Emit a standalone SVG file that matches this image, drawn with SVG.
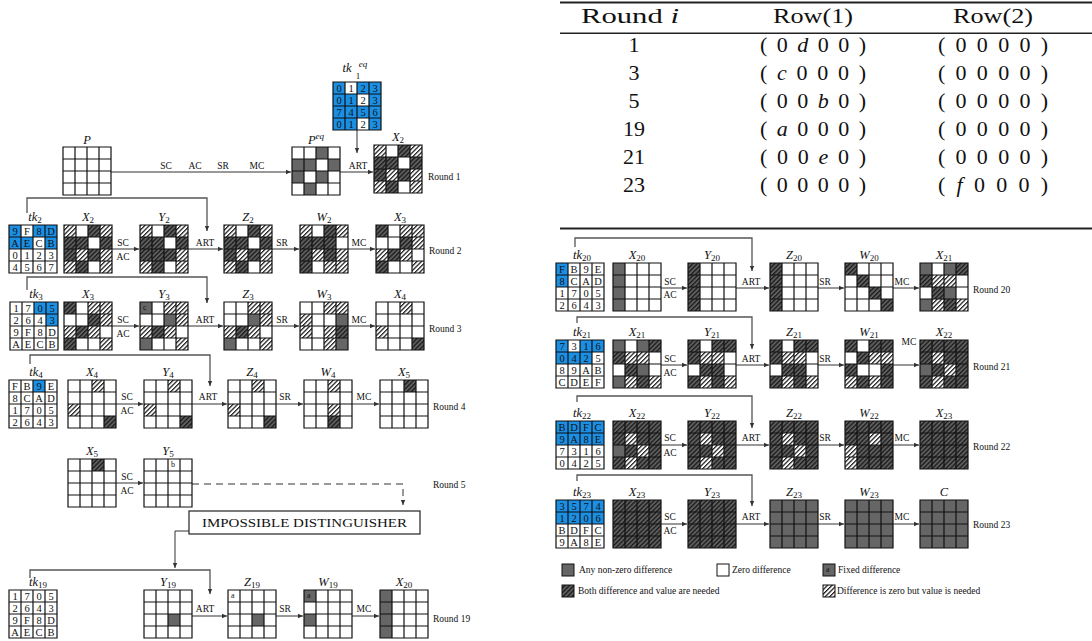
<svg xmlns="http://www.w3.org/2000/svg" width="1092" height="641" viewBox="0 0 1092 641">
<style>
text{font-family:"Liberation Serif","Times New Roman",serif;fill:#111}
.op{font-size:9.5px;text-anchor:middle}
.rl{font-size:9.5px}
.lab{font-size:12.5px;font-style:italic;text-anchor:middle}
.sb{font-size:9px;font-style:normal}
.k{font-size:10.5px;text-anchor:middle}
.ct{font-size:8px}
.tb{font-size:21px;text-anchor:middle}
.tr{font-size:22px;text-anchor:middle}
.lg{font-size:9.5px}
.ar{stroke:#333;stroke-width:1;fill:none;marker-end:url(#ah)}
.rt{stroke:#555;stroke-width:1.3;fill:none;marker-end:url(#ah)}
.bg{fill:#fff}
</style>
<defs>
<marker id="ah" markerWidth="7" markerHeight="7" refX="5.5" refY="3" orient="auto" markerUnits="userSpaceOnUse"><path d="M0,0.6L5.5,3L0,5.4z" fill="#333"/></marker>
<pattern id="pd" patternUnits="userSpaceOnUse" width="3.2" height="3.2" patternTransform="rotate(45)"><rect width="3.2" height="3.2" fill="#5e5e5e"/><rect width="1.3" height="3.2" fill="#1a1a1a"/></pattern>
<pattern id="pw" patternUnits="userSpaceOnUse" width="3.2" height="3.2" patternTransform="rotate(45)"><rect width="3.2" height="3.2" fill="#fff"/><rect width="1.2" height="3.2" fill="#111"/></pattern>
<rect id="G" width="12" height="12" fill="#666"/>
<rect id="D" width="12" height="12" fill="url(#pd)"/>
<rect id="H" width="12" height="12" fill="url(#pw)"/>
<rect id="K" width="12" height="12" fill="#1a8fe3"/>
<path id="gr" d="M0,0H48V48H0Z M12,0V48 M24,0V48 M36,0V48 M0,12H48 M0,24H48 M0,36H48" fill="none" stroke="#111" stroke-width="1.2"/>
</defs>
<rect width="1092" height="641" fill="#fff"/>

<!-- ================= TABLE ================= -->
<g id="table">
<rect x="560" y="1.5" width="532" height="2" fill="#222"/>
<rect x="560" y="32.5" width="532" height="1.5" fill="#222"/>
<rect x="560" y="227.5" width="532" height="2" fill="#222"/>
<text class="tb" x="630" y="23" textLength="98" lengthAdjust="spacingAndGlyphs">Round <tspan font-style="italic">i</tspan></text>
<text class="tb" x="813" y="23" textLength="80" lengthAdjust="spacingAndGlyphs">Row(1)</text>
<text class="tb" x="993" y="23" textLength="80" lengthAdjust="spacingAndGlyphs">Row(2)</text>
<text class="tr" x="634" y="52">1</text>
<text class="tr" x="634" y="80">3</text>
<text class="tr" x="634" y="108">5</text>
<text class="tr" x="634" y="136">19</text>
<text class="tr" x="634" y="164">21</text>
<text class="tr" x="634" y="192">23</text>
<text class="tr" x="813" y="52" textLength="106" lengthAdjust="spacing">( 0 <tspan font-style="italic">d</tspan> 0 0 )</text>
<text class="tr" x="813" y="80" textLength="106" lengthAdjust="spacing">( <tspan font-style="italic">c</tspan> 0 0 0 )</text>
<text class="tr" x="813" y="108" textLength="106" lengthAdjust="spacing">( 0 0 <tspan font-style="italic">b</tspan> 0 )</text>
<text class="tr" x="813" y="136" textLength="106" lengthAdjust="spacing">( <tspan font-style="italic">a</tspan> 0 0 0 )</text>
<text class="tr" x="813" y="164" textLength="106" lengthAdjust="spacing">( 0 0 <tspan font-style="italic">e</tspan> 0 )</text>
<text class="tr" x="813" y="192" textLength="106" lengthAdjust="spacing">( 0 0 0 0 )</text>
<text class="tr" x="993" y="52" textLength="110" lengthAdjust="spacing">( 0 0 0 0 )</text>
<text class="tr" x="993" y="80" textLength="110" lengthAdjust="spacing">( 0 0 0 0 )</text>
<text class="tr" x="993" y="108" textLength="110" lengthAdjust="spacing">( 0 0 0 0 )</text>
<text class="tr" x="993" y="136" textLength="110" lengthAdjust="spacing">( 0 0 0 0 )</text>
<text class="tr" x="993" y="164" textLength="110" lengthAdjust="spacing">( 0 0 0 0 )</text>
<text class="tr" x="993" y="192" textLength="110" lengthAdjust="spacing">( <tspan font-style="italic">f</tspan> 0 0 0 )</text>
</g>

<!-- ================= CONNECTORS ================= -->
<g id="connectors">
<path class="ar" d="M111,172H291"/>
<path class="ar" d="M340,172H373"/>
<path class="ar" d="M357,130V153"/>
<path class="rt" d="M27,213V198H207V231"/>
<path class="ar" d="M112,249H139"/>
<path class="ar" d="M188,249H223"/>
<path class="ar" d="M272,249H299"/>
<path class="ar" d="M348,249H375"/>
<path class="rt" d="M27,290V277H207V303"/>
<path class="ar" d="M112,326H139"/>
<path class="ar" d="M188,326H223"/>
<path class="ar" d="M272,326H299"/>
<path class="ar" d="M348,326H375"/>
<path class="rt" d="M30,364V355H210V386"/>
<path class="ar" d="M116,404H143"/>
<path class="ar" d="M192,404H227"/>
<path class="ar" d="M276,404H303"/>
<path class="ar" d="M352,404H379"/>
<path class="ar" d="M116,483H143"/>
<path class="ar" d="M192,484H403V505" stroke-dasharray="7 5"/>
<path class="ar" d="M189,531H175V568"/>
<path class="rt" d="M30,578V570H210V594"/>
<path class="ar" d="M192,616H227"/>
<path class="ar" d="M276,616H303"/>
<path class="ar" d="M352,616H379"/>
<path class="rt" d="M575,247V238H752V271"/>
<path class="ar" d="M661,288H687"/>
<path class="ar" d="M736,288H769"/>
<path class="ar" d="M818,288H844"/>
<path class="ar" d="M893,288H919"/>
<path class="rt" d="M577,323V317H752V349"/>
<path class="ar" d="M661,365H687"/>
<path class="ar" d="M736,365H769"/>
<path class="ar" d="M818,365H844"/>
<path class="ar" d="M893,365H919"/>
<path class="rt" d="M577,402V396H752V428"/>
<path class="ar" d="M661,445H687"/>
<path class="ar" d="M736,445H769"/>
<path class="ar" d="M818,445H844"/>
<path class="ar" d="M893,445H919"/>
<path class="rt" d="M577,481V475H752V506"/>
<path class="ar" d="M661,524H687"/>
<path class="ar" d="M736,524H769"/>
<path class="ar" d="M818,524H844"/>
<path class="ar" d="M893,524H919"/>
</g>

<!-- ================= OPERATION LABELS ================= -->
<g id="oplabels">
<text class="op" x="166" y="169">SC</text><text class="op" x="195" y="169">AC</text><text class="op" x="223" y="169">SR</text><text class="op" x="257" y="169">MC</text>
<text class="op" x="358" y="169">ART</text>
<text class="rl" x="428" y="180">Round 1</text>
<text class="op" x="123" y="246">SC</text><text class="op" x="123" y="260">AC</text><text class="op" x="205" y="246">ART</text><text class="op" x="282" y="246">SR</text><text class="op" x="359" y="246">MC</text>
<text class="rl" x="429" y="254">Round 2</text>
<text class="op" x="123" y="323">SC</text><text class="op" x="123" y="337">AC</text><text class="op" x="205" y="323">ART</text><text class="op" x="282" y="323">SR</text><text class="op" x="359" y="323">MC</text>
<text class="rl" x="429" y="332">Round 3</text>
<text class="op" x="127" y="400">SC</text><text class="op" x="127" y="414">AC</text><text class="op" x="208" y="400">ART</text><text class="op" x="285" y="400">SR</text><text class="op" x="364" y="400">MC</text>
<text class="rl" x="433" y="410">Round 4</text>
<text class="op" x="127" y="480">SC</text><text class="op" x="127" y="494">AC</text>
<text class="rl" x="433" y="488">Round 5</text>
<text class="op" x="205" y="612">ART</text><text class="op" x="285" y="612">SR</text><text class="op" x="364" y="612">MC</text>
<text class="rl" x="433" y="622">Round 19</text>
<text class="op" x="670" y="285">SC</text><text class="op" x="670" y="298">AC</text><text class="op" x="751" y="285">ART</text><text class="op" x="825" y="285">SR</text><text class="op" x="902" y="285">MC</text>
<text class="rl" x="973" y="293">Round 20</text>
<text class="op" x="670" y="362">SC</text><text class="op" x="670" y="376">AC</text><text class="op" x="751" y="362">ART</text><text class="op" x="825" y="362">SR</text><text class="op" x="909" y="345">MC</text>
<text class="rl" x="973" y="370">Round 21</text>
<text class="op" x="670" y="441">SC</text><text class="op" x="670" y="456">AC</text><text class="op" x="751" y="441">ART</text><text class="op" x="825" y="441">SR</text><text class="op" x="902" y="441">MC</text>
<text class="rl" x="973" y="450">Round 22</text>
<text class="op" x="670" y="520">SC</text><text class="op" x="670" y="534">AC</text><text class="op" x="751" y="520">ART</text><text class="op" x="825" y="520">SR</text><text class="op" x="902" y="520">MC</text>
<text class="rl" x="973" y="528">Round 23</text>
</g>

<!-- ================= ROUND 1 ================= -->
<g id="tkeq1">
<text class="lab" x="347" y="72">tk</text><text x="363" y="67" font-size="9" font-style="italic" text-anchor="middle">eq</text><text x="358" y="79" font-size="9" text-anchor="middle">1</text>
<g transform="translate(333,82)"><rect class="bg" width="48" height="48"/>
<use href="#K" x="0" y="0"/><use href="#K" x="24" y="0"/><use href="#K" x="36" y="0"/>
<use href="#K" x="0" y="12"/><use href="#K" x="12" y="12"/><use href="#K" x="36" y="12"/>
<use href="#K" x="0" y="24"/><use href="#K" x="12" y="24"/><use href="#K" x="24" y="24"/><use href="#K" x="36" y="24"/>
<use href="#K" x="0" y="36"/><use href="#K" x="12" y="36"/><use href="#K" x="36" y="36"/>
<text class="k" x="6 18 30 42" y="10">0123</text><text class="k" x="6 18 30 42" y="22">0123</text><text class="k" x="6 18 30 42" y="34">7456</text><text class="k" x="6 18 30 42" y="46">0123</text>
<use href="#gr"/></g></g>
<g id="P-r1"><text class="lab" x="87" y="144">P</text>
<g transform="translate(63,147)"><rect class="bg" width="48" height="48"/><use href="#gr"/></g></g>
<g id="Peq-r1"><text class="lab" x="316" y="144">P<tspan font-size="9" dy="-5">eq</tspan></text>
<g transform="translate(292,147)"><rect class="bg" width="48" height="48"/>
<use href="#G" x="24" y="0"/><use href="#G" x="0" y="12"/><use href="#G" x="12" y="12"/><use href="#G" x="36" y="12"/><use href="#G" x="0" y="24"/><use href="#G" x="24" y="24"/><use href="#G" x="12" y="36"/>
<use href="#gr"/></g></g>
<g id="X2-r1"><text class="lab" x="398" y="141">X<tspan class="sb" dy="2">2</tspan></text>
<g transform="translate(374,145)"><rect class="bg" width="48" height="48"/>
<use href="#H" x="0" y="0"/><use href="#D" x="24" y="0"/><use href="#H" x="36" y="0"/>
<use href="#D" x="0" y="12"/><use href="#D" x="12" y="12"/><use href="#D" x="36" y="12"/>
<use href="#D" x="0" y="24"/><use href="#H" x="12" y="24"/><use href="#D" x="24" y="24"/><use href="#H" x="36" y="24"/>
<use href="#H" x="0" y="36"/><use href="#D" x="12" y="36"/><use href="#H" x="36" y="36"/>
<use href="#gr"/></g></g>

<!-- ================= ROUND 2 ================= -->
<g id="tk2"><text class="lab" x="35" y="221">tk<tspan class="sb" dy="2">2</tspan></text>
<g transform="translate(9,225)"><rect class="bg" width="48" height="48"/>
<use href="#K" x="0" y="0"/><use href="#K" x="24" y="0"/><use href="#K" x="36" y="0"/>
<use href="#K" x="0" y="12"/><use href="#K" x="12" y="12"/><use href="#K" x="36" y="12"/>
<text class="k" x="6 18 30 42" y="10">9F8D</text><text class="k" x="6 18 30 42" y="22">AECB</text><text class="k" x="6 18 30 42" y="34">0123</text><text class="k" x="6 18 30 42" y="46">4567</text>
<use href="#gr"/></g></g>
<g id="X2-r2"><text class="lab" x="88" y="221">X<tspan class="sb" dy="2">2</tspan></text>
<g transform="translate(64,225)"><rect class="bg" width="48" height="48"/>
<use href="#H" x="0" y="0"/><use href="#D" x="24" y="0"/><use href="#H" x="36" y="0"/>
<use href="#D" x="0" y="12"/><use href="#D" x="12" y="12"/><use href="#D" x="36" y="12"/>
<use href="#D" x="0" y="24"/><use href="#H" x="12" y="24"/><use href="#D" x="24" y="24"/><use href="#H" x="36" y="24"/>
<use href="#H" x="0" y="36"/><use href="#D" x="12" y="36"/><use href="#H" x="36" y="36"/>
<use href="#gr"/></g></g>
<g id="Y2-r2"><text class="lab" x="164" y="221">Y<tspan class="sb" dy="2">2</tspan></text>
<g transform="translate(140,225)"><rect class="bg" width="48" height="48"/>
<use href="#H" x="0" y="0"/><use href="#D" x="24" y="0"/><use href="#H" x="36" y="0"/>
<use href="#D" x="0" y="12"/><use href="#D" x="12" y="12"/><use href="#D" x="36" y="12"/>
<use href="#D" x="0" y="24"/><use href="#D" x="12" y="24"/><use href="#D" x="24" y="24"/><use href="#H" x="36" y="24"/>
<use href="#H" x="0" y="36"/><use href="#D" x="12" y="36"/><use href="#H" x="36" y="36"/>
<use href="#gr"/></g></g>
<g id="Z2-r2"><text class="lab" x="248" y="221">Z<tspan class="sb" dy="2">2</tspan></text>
<g transform="translate(224,225)"><rect class="bg" width="48" height="48"/>
<use href="#H" x="0" y="0"/><use href="#D" x="24" y="0"/><use href="#H" x="36" y="0"/>
<use href="#D" x="0" y="12"/><use href="#D" x="12" y="12"/><use href="#D" x="36" y="12"/>
<use href="#D" x="0" y="24"/><use href="#H" x="12" y="24"/><use href="#D" x="24" y="24"/><use href="#H" x="36" y="24"/>
<use href="#H" x="0" y="36"/><use href="#D" x="12" y="36"/><use href="#H" x="36" y="36"/>
<use href="#gr"/></g></g>
<g id="W2-r2"><text class="lab" x="324" y="221">W<tspan class="sb" dy="2">2</tspan></text>
<g transform="translate(300,225)"><rect class="bg" width="48" height="48"/>
<use href="#H" x="0" y="0"/><use href="#D" x="24" y="0"/><use href="#H" x="36" y="0"/>
<use href="#D" x="0" y="12"/><use href="#D" x="12" y="12"/><use href="#D" x="24" y="12"/>
<use href="#D" x="0" y="24"/><use href="#H" x="12" y="24"/><use href="#D" x="24" y="24"/><use href="#H" x="36" y="24"/>
<use href="#D" x="0" y="36"/><use href="#H" x="24" y="36"/><use href="#H" x="36" y="36"/>
<use href="#gr"/></g></g>
<g id="X3-r2"><text class="lab" x="400" y="221">X<tspan class="sb" dy="2">3</tspan></text>
<g transform="translate(376,225)"><rect class="bg" width="48" height="48"/>
<use href="#D" x="0" y="0"/><use href="#H" x="24" y="0"/><use href="#H" x="36" y="0"/>
<use href="#D" x="24" y="12"/><use href="#H" x="36" y="12"/>
<use href="#H" x="0" y="24"/><use href="#D" x="12" y="24"/><use href="#H" x="24" y="24"/>
<use href="#D" x="0" y="36"/><use href="#H" x="36" y="36"/>
<use href="#gr"/></g></g>

<!-- ================= ROUND 3 ================= -->
<g id="tk3"><text class="lab" x="36" y="298">tk<tspan class="sb" dy="2">3</tspan></text>
<g transform="translate(10,302)"><rect class="bg" width="48" height="48"/>
<use href="#K" x="24" y="0"/><use href="#K" x="36" y="0"/><use href="#K" x="36" y="12"/>
<text class="k" x="6 18 30 42" y="10">1705</text><text class="k" x="6 18 30 42" y="22">2643</text><text class="k" x="6 18 30 42" y="34">9F8D</text><text class="k" x="6 18 30 42" y="46">AECB</text>
<use href="#gr"/></g></g>
<g id="X3-r3"><text class="lab" x="88" y="298">X<tspan class="sb" dy="2">3</tspan></text>
<g transform="translate(64,302)"><rect class="bg" width="48" height="48"/>
<use href="#D" x="0" y="0"/><use href="#H" x="24" y="0"/><use href="#H" x="36" y="0"/>
<use href="#D" x="24" y="12"/><use href="#H" x="36" y="12"/>
<use href="#H" x="0" y="24"/><use href="#D" x="12" y="24"/><use href="#H" x="24" y="24"/>
<use href="#D" x="0" y="36"/><use href="#H" x="36" y="36"/>
<use href="#gr"/></g></g>
<g id="Y3-r3"><text class="lab" x="164" y="298">Y<tspan class="sb" dy="2">3</tspan></text>
<g transform="translate(140,302)"><rect class="bg" width="48" height="48"/>
<use href="#G" x="0" y="0"/><use href="#H" x="24" y="0"/><use href="#H" x="36" y="0"/>
<use href="#G" x="24" y="12"/><use href="#H" x="36" y="12"/>
<use href="#H" x="0" y="24"/><use href="#D" x="12" y="24"/><use href="#H" x="24" y="24"/>
<use href="#G" x="0" y="36"/><use href="#H" x="36" y="36"/>
<text class="ct" x="3" y="8">c</text>
<use href="#gr"/></g></g>
<g id="Z3-r3"><text class="lab" x="248" y="298">Z<tspan class="sb" dy="2">3</tspan></text>
<g transform="translate(224,302)"><rect class="bg" width="48" height="48"/>
<use href="#H" x="24" y="0"/><use href="#H" x="36" y="0"/>
<use href="#G" x="24" y="12"/><use href="#H" x="36" y="12"/>
<use href="#H" x="0" y="24"/><use href="#D" x="12" y="24"/><use href="#H" x="24" y="24"/>
<use href="#G" x="0" y="36"/><use href="#H" x="36" y="36"/>
<use href="#gr"/></g></g>
<g id="W3-r3"><text class="lab" x="324" y="298">W<tspan class="sb" dy="2">3</tspan></text>
<g transform="translate(300,302)"><rect class="bg" width="48" height="48"/>
<use href="#H" x="24" y="0"/><use href="#H" x="36" y="0"/>
<use href="#H" x="0" y="12"/><use href="#G" x="36" y="12"/>
<use href="#H" x="0" y="24"/><use href="#H" x="24" y="24"/><use href="#D" x="36" y="24"/>
<use href="#H" x="24" y="36"/><use href="#G" x="36" y="36"/>
<use href="#gr"/></g></g>
<g id="X4-r3"><text class="lab" x="400" y="298">X<tspan class="sb" dy="2">4</tspan></text>
<g transform="translate(376,302)"><rect class="bg" width="48" height="48"/>
<use href="#H" x="24" y="0"/><use href="#H" x="0" y="24"/><use href="#D" x="36" y="36"/>
<use href="#gr"/></g></g>

<!-- ================= ROUND 4 ================= -->
<g id="tk4"><text class="lab" x="36" y="376">tk<tspan class="sb" dy="2">4</tspan></text>
<g transform="translate(9,380)"><rect class="bg" width="48" height="48"/>
<use href="#K" x="24" y="0"/>
<text class="k" x="6 18 30 42" y="10">FB9E</text><text class="k" x="6 18 30 42" y="22">8CAD</text><text class="k" x="6 18 30 42" y="34">1705</text><text class="k" x="6 18 30 42" y="46">2643</text>
<use href="#gr"/></g></g>
<g id="X4-r4"><text class="lab" x="92" y="376">X<tspan class="sb" dy="2">4</tspan></text>
<g transform="translate(68,380)"><rect class="bg" width="48" height="48"/>
<use href="#H" x="24" y="0"/><use href="#H" x="0" y="24"/><use href="#D" x="36" y="36"/>
<use href="#gr"/></g></g>
<g id="Y4-r4"><text class="lab" x="168" y="376">Y<tspan class="sb" dy="2">4</tspan></text>
<g transform="translate(144,380)"><rect class="bg" width="48" height="48"/>
<use href="#H" x="24" y="0"/><use href="#H" x="0" y="24"/><use href="#D" x="36" y="36"/>
<use href="#gr"/></g></g>
<g id="Z4-r4"><text class="lab" x="252" y="376">Z<tspan class="sb" dy="2">4</tspan></text>
<g transform="translate(228,380)"><rect class="bg" width="48" height="48"/>
<use href="#H" x="24" y="0"/><use href="#H" x="0" y="24"/><use href="#D" x="36" y="36"/>
<use href="#gr"/></g></g>
<g id="W4-r4"><text class="lab" x="328" y="376">W<tspan class="sb" dy="2">4</tspan></text>
<g transform="translate(304,380)"><rect class="bg" width="48" height="48"/>
<use href="#H" x="24" y="0"/><use href="#H" x="24" y="24"/><use href="#D" x="24" y="36"/>
<use href="#gr"/></g></g>
<g id="X5-r4"><text class="lab" x="404" y="376">X<tspan class="sb" dy="2">5</tspan></text>
<g transform="translate(380,380)"><rect class="bg" width="48" height="48"/>
<use href="#D" x="24" y="0"/>
<use href="#gr"/></g></g>

<!-- ================= ROUND 5 ================= -->
<g id="X5-r5"><text class="lab" x="92" y="455">X<tspan class="sb" dy="2">5</tspan></text>
<g transform="translate(68,459)"><rect class="bg" width="48" height="48"/>
<use href="#D" x="24" y="0"/>
<use href="#gr"/></g></g>
<g id="Y5-r5"><text class="lab" x="168" y="455">Y<tspan class="sb" dy="2">5</tspan></text>
<g transform="translate(144,459)"><rect class="bg" width="48" height="48"/>
<text class="ct" x="27" y="8">b</text>
<use href="#gr"/></g></g>
<g id="impossible">
<rect x="189" y="511" width="231" height="23" fill="#fff" stroke="#222" stroke-width="1.2"/>
<text x="304.5" y="527" font-size="13" text-anchor="middle" textLength="205" lengthAdjust="spacingAndGlyphs">IMPOSSIBLE DISTINGUISHER</text>
</g>

<!-- ================= ROUND 19 ================= -->
<g id="tk19"><text class="lab" x="38" y="586">tk<tspan class="sb" dy="2">19</tspan></text>
<g transform="translate(9,590)"><rect class="bg" width="48" height="48"/>
<text class="k" x="6 18 30 42" y="10">1705</text><text class="k" x="6 18 30 42" y="22">2643</text><text class="k" x="6 18 30 42" y="34">9F8D</text><text class="k" x="6 18 30 42" y="46">AECB</text>
<use href="#gr"/></g></g>
<g id="Y19-r19"><text class="lab" x="168" y="586">Y<tspan class="sb" dy="2">19</tspan></text>
<g transform="translate(144,590)"><rect class="bg" width="48" height="48"/>
<use href="#G" x="24" y="24"/>
<use href="#gr"/></g></g>
<g id="Z19-r19"><text class="lab" x="252" y="586">Z<tspan class="sb" dy="2">19</tspan></text>
<g transform="translate(228,590)"><rect class="bg" width="48" height="48"/>
<use href="#G" x="24" y="24"/><text class="ct" x="3" y="8">a</text>
<use href="#gr"/></g></g>
<g id="W19-r19"><text class="lab" x="328" y="586">W<tspan class="sb" dy="2">19</tspan></text>
<g transform="translate(304,590)"><rect class="bg" width="48" height="48"/>
<use href="#G" x="0" y="0"/><use href="#G" x="0" y="24"/><text class="ct" x="3" y="8">a</text>
<use href="#gr"/></g></g>
<g id="X20-r19"><text class="lab" x="404" y="586">X<tspan class="sb" dy="2">20</tspan></text>
<g transform="translate(380,590)"><rect class="bg" width="48" height="48"/>
<use href="#G" x="0" y="0"/><use href="#G" x="0" y="12"/><use href="#G" x="0" y="24"/><use href="#G" x="0" y="36"/>
<use href="#gr"/></g></g>

<!-- ================= ROUND 20 ================= -->
<g id="tk20"><text class="lab" x="582" y="259">tk<tspan class="sb" dy="2">20</tspan></text>
<g transform="translate(556,263)"><rect class="bg" width="48" height="48"/>
<use href="#K" x="0" y="0"/><use href="#K" x="0" y="12"/>
<text class="k" x="6 18 30 42" y="10">FB9E</text><text class="k" x="6 18 30 42" y="22">8CAD</text><text class="k" x="6 18 30 42" y="34">1705</text><text class="k" x="6 18 30 42" y="46">2643</text>
<use href="#gr"/></g></g>
<g id="X20-r20"><text class="lab" x="637" y="259">X<tspan class="sb" dy="2">20</tspan></text>
<g transform="translate(613,263)"><rect class="bg" width="48" height="48"/>
<use href="#G" x="0" y="0"/><use href="#G" x="0" y="12"/><use href="#G" x="0" y="24"/><use href="#G" x="0" y="36"/>
<use href="#gr"/></g></g>
<g id="Y20-r20"><text class="lab" x="712" y="259">Y<tspan class="sb" dy="2">20</tspan></text>
<g transform="translate(688,263)"><rect class="bg" width="48" height="48"/>
<use href="#D" x="0" y="0"/><use href="#D" x="0" y="12"/><use href="#D" x="0" y="24"/><use href="#D" x="0" y="36"/>
<use href="#gr"/></g></g>
<g id="Z20-r20"><text class="lab" x="794" y="259">Z<tspan class="sb" dy="2">20</tspan></text>
<g transform="translate(770,263)"><rect class="bg" width="48" height="48"/>
<use href="#D" x="0" y="0"/><use href="#D" x="0" y="12"/><use href="#D" x="0" y="24"/><use href="#D" x="0" y="36"/>
<use href="#gr"/></g></g>
<g id="W20-r20"><text class="lab" x="869" y="259">W<tspan class="sb" dy="2">20</tspan></text>
<g transform="translate(845,263)"><rect class="bg" width="48" height="48"/>
<use href="#D" x="0" y="0"/><use href="#D" x="12" y="12"/><use href="#D" x="24" y="24"/><use href="#D" x="36" y="36"/>
<use href="#gr"/></g></g>
<g id="X21-r20"><text class="lab" x="944" y="259">X<tspan class="sb" dy="2">21</tspan></text>
<g transform="translate(920,263)"><rect class="bg" width="48" height="48"/>
<use href="#G" x="0" y="0"/><use href="#G" x="24" y="0"/><use href="#D" x="36" y="0"/>
<use href="#D" x="0" y="12"/><use href="#H" x="12" y="12"/><use href="#H" x="24" y="12"/>
<use href="#D" x="12" y="24"/><use href="#G" x="24" y="24"/>
<use href="#G" x="0" y="36"/><use href="#H" x="12" y="36"/><use href="#D" x="24" y="36"/><use href="#H" x="36" y="36"/>
<use href="#gr"/></g></g>

<!-- ================= ROUND 21 ================= -->
<g id="tk21"><text class="lab" x="582" y="336">tk<tspan class="sb" dy="2">21</tspan></text>
<g transform="translate(556,340)"><rect class="bg" width="48" height="48"/>
<use href="#K" x="0" y="0"/><use href="#K" x="24" y="0"/><use href="#K" x="36" y="0"/>
<use href="#K" x="0" y="12"/><use href="#K" x="12" y="12"/><use href="#K" x="24" y="12"/>
<text class="k" x="6 18 30 42" y="10">7316</text><text class="k" x="6 18 30 42" y="22">0425</text><text class="k" x="6 18 30 42" y="34">89AB</text><text class="k" x="6 18 30 42" y="46">CDEF</text>
<use href="#gr"/></g></g>
<g id="X21-r21"><text class="lab" x="637" y="336">X<tspan class="sb" dy="2">21</tspan></text>
<g transform="translate(613,340)"><rect class="bg" width="48" height="48"/>
<use href="#G" x="0" y="0"/><use href="#G" x="24" y="0"/><use href="#D" x="36" y="0"/>
<use href="#D" x="0" y="12"/><use href="#H" x="12" y="12"/><use href="#H" x="24" y="12"/>
<use href="#D" x="12" y="24"/><use href="#G" x="24" y="24"/>
<use href="#G" x="0" y="36"/><use href="#H" x="12" y="36"/><use href="#D" x="24" y="36"/><use href="#H" x="36" y="36"/>
<use href="#gr"/></g></g>
<g id="Y21-r21"><text class="lab" x="712" y="336">Y<tspan class="sb" dy="2">21</tspan></text>
<g transform="translate(688,340)"><rect class="bg" width="48" height="48"/>
<use href="#D" x="0" y="0"/><use href="#D" x="24" y="0"/><use href="#D" x="36" y="0"/>
<use href="#D" x="0" y="12"/><use href="#H" x="12" y="12"/><use href="#H" x="24" y="12"/>
<use href="#D" x="12" y="24"/><use href="#D" x="24" y="24"/>
<use href="#D" x="0" y="36"/><use href="#H" x="12" y="36"/><use href="#D" x="24" y="36"/><use href="#H" x="36" y="36"/>
<use href="#gr"/></g></g>
<g id="Z21-r21"><text class="lab" x="794" y="336">Z<tspan class="sb" dy="2">21</tspan></text>
<g transform="translate(770,340)"><rect class="bg" width="48" height="48"/>
<use href="#D" x="0" y="0"/><use href="#D" x="24" y="0"/><use href="#D" x="36" y="0"/>
<use href="#D" x="0" y="12"/><use href="#H" x="12" y="12"/><use href="#H" x="24" y="12"/>
<use href="#D" x="12" y="24"/><use href="#D" x="24" y="24"/>
<use href="#D" x="0" y="36"/><use href="#H" x="12" y="36"/><use href="#D" x="24" y="36"/><use href="#H" x="36" y="36"/>
<use href="#gr"/></g></g>
<g id="W21-r21"><text class="lab" x="869" y="336">W<tspan class="sb" dy="2">21</tspan></text>
<g transform="translate(845,340)"><rect class="bg" width="48" height="48"/>
<use href="#D" x="0" y="0"/><use href="#D" x="24" y="0"/><use href="#D" x="36" y="0"/>
<use href="#D" x="12" y="12"/><use href="#H" x="24" y="12"/><use href="#H" x="36" y="12"/>
<use href="#D" x="0" y="24"/><use href="#D" x="36" y="24"/>
<use href="#H" x="0" y="36"/><use href="#D" x="12" y="36"/><use href="#H" x="24" y="36"/><use href="#D" x="36" y="36"/>
<use href="#gr"/></g></g>
<g id="X22-r21"><text class="lab" x="944" y="336">X<tspan class="sb" dy="2">22</tspan></text>
<g transform="translate(920,340)"><rect width="48" height="48" fill="url(#pd)"/>
<use href="#H" x="12" y="12"/><use href="#G" x="0" y="24"/><use href="#H" x="24" y="24"/><use href="#H" x="12" y="36"/>
<use href="#gr"/></g></g>

<!-- ================= ROUND 22 ================= -->
<g id="tk22"><text class="lab" x="582" y="417">tk<tspan class="sb" dy="2">22</tspan></text>
<g transform="translate(556,421)"><rect class="bg" width="48" height="48"/>
<use href="#K" x="0" y="0"/><use href="#K" x="12" y="0"/><use href="#K" x="24" y="0"/><use href="#K" x="36" y="0"/>
<use href="#K" x="0" y="12"/><use href="#K" x="12" y="12"/><use href="#K" x="24" y="12"/><use href="#K" x="36" y="12"/>
<text class="k" x="6 18 30 42" y="10">BDFC</text><text class="k" x="6 18 30 42" y="22">9A8E</text><text class="k" x="6 18 30 42" y="34">7316</text><text class="k" x="6 18 30 42" y="46">0425</text>
<use href="#gr"/></g></g>
<g id="X22-r22"><text class="lab" x="637" y="417">X<tspan class="sb" dy="2">22</tspan></text>
<g transform="translate(613,421)"><rect width="48" height="48" fill="url(#pd)"/>
<use href="#H" x="12" y="12"/><use href="#G" x="0" y="24"/><use href="#H" x="24" y="24"/><use href="#H" x="12" y="36"/>
<use href="#gr"/></g></g>
<g id="Y22-r22"><text class="lab" x="712" y="417">Y<tspan class="sb" dy="2">22</tspan></text>
<g transform="translate(688,421)"><rect width="48" height="48" fill="url(#pd)"/>
<use href="#H" x="12" y="12"/><use href="#H" x="24" y="24"/><use href="#H" x="12" y="36"/>
<use href="#gr"/></g></g>
<g id="Z22-r22"><text class="lab" x="794" y="417">Z<tspan class="sb" dy="2">22</tspan></text>
<g transform="translate(770,421)"><rect width="48" height="48" fill="url(#pd)"/>
<use href="#H" x="12" y="12"/><use href="#H" x="24" y="24"/><use href="#H" x="12" y="36"/>
<use href="#gr"/></g></g>
<g id="W22-r22"><text class="lab" x="869" y="417">W<tspan class="sb" dy="2">22</tspan></text>
<g transform="translate(845,421)"><rect width="48" height="48" fill="url(#pd)"/>
<use href="#H" x="24" y="12"/><use href="#H" x="0" y="24"/><use href="#H" x="0" y="36"/>
<use href="#gr"/></g></g>
<g id="X23-r22"><text class="lab" x="944" y="417">X<tspan class="sb" dy="2">23</tspan></text>
<g transform="translate(920,421)"><rect width="48" height="48" fill="url(#pd)"/>
<use href="#gr"/></g></g>

<!-- ================= ROUND 23 ================= -->
<g id="tk23"><text class="lab" x="582" y="496">tk<tspan class="sb" dy="2">23</tspan></text>
<g transform="translate(556,500)"><rect class="bg" width="48" height="48"/>
<use href="#K" x="0" y="0"/><use href="#K" x="12" y="0"/><use href="#K" x="24" y="0"/><use href="#K" x="36" y="0"/>
<use href="#K" x="0" y="12"/><use href="#K" x="12" y="12"/><use href="#K" x="24" y="12"/><use href="#K" x="36" y="12"/>
<text class="k" x="6 18 30 42" y="10">3574</text><text class="k" x="6 18 30 42" y="22">1206</text><text class="k" x="6 18 30 42" y="34">BDFC</text><text class="k" x="6 18 30 42" y="46">9A8E</text>
<use href="#gr"/></g></g>
<g id="X23-r23"><text class="lab" x="637" y="496">X<tspan class="sb" dy="2">23</tspan></text>
<g transform="translate(613,500)"><rect width="48" height="48" fill="url(#pd)"/><use href="#gr"/></g></g>
<g id="Y23-r23"><text class="lab" x="712" y="496">Y<tspan class="sb" dy="2">23</tspan></text>
<g transform="translate(688,500)"><rect width="48" height="48" fill="url(#pd)"/><use href="#gr"/></g></g>
<g id="Z23-r23"><text class="lab" x="794" y="496">Z<tspan class="sb" dy="2">23</tspan></text>
<g transform="translate(770,500)"><rect width="48" height="48" fill="#666"/><use href="#gr"/></g></g>
<g id="W23-r23"><text class="lab" x="869" y="496">W<tspan class="sb" dy="2">23</tspan></text>
<g transform="translate(845,500)"><rect width="48" height="48" fill="#666"/><use href="#gr"/></g></g>
<g id="C-r23"><text class="lab" x="944" y="496">C</text>
<g transform="translate(920,500)"><rect width="48" height="48" fill="#666"/><use href="#gr"/></g></g>

<!-- ================= LEGEND ================= -->
<g id="legend">
<rect x="562" y="564" width="12" height="12" fill="#666" stroke="#111" stroke-width="1"/>
<text class="lg" x="579" y="573">Any non-zero difference</text>
<rect x="717" y="564" width="12" height="12" fill="#fff" stroke="#111" stroke-width="1"/>
<text class="lg" x="732" y="573">Zero difference</text>
<rect x="823" y="564" width="12" height="12" fill="#666" stroke="#111" stroke-width="1"/>
<text class="ct" x="826" y="572">a</text>
<text class="lg" x="838" y="573">Fixed difference</text>
<rect x="562" y="585" width="12" height="12" fill="url(#pd)" stroke="#111" stroke-width="1"/>
<text class="lg" x="578" y="594">Both difference and value are needed</text>
<rect x="823" y="585" width="12" height="12" fill="url(#pw)" stroke="#111" stroke-width="1"/>
<text class="lg" x="837" y="594">Difference is zero but value is needed</text>
</g>
</svg>
